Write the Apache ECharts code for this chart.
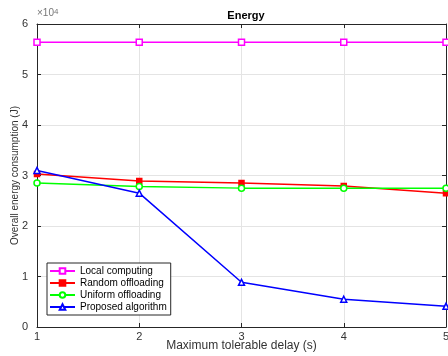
<!DOCTYPE html>
<html><head><meta charset="utf-8">
<script src="https://cdn.jsdelivr.net/npm/echarts@6/dist/echarts.min.js"></script>
<style>html,body{margin:0;padding:0;background:#fff}#c{width:448px;height:356px}</style>
</head><body><div id="c"></div>
<script>
const delays = [1, 2, 3, 4, 5];
const localComputing = [56400, 56400, 56400, 56400, 56400];
const randomOffloading = [30300, 28900, 28500, 27900, 26500];
const uniformOffloading = [28500, 27800, 27500, 27500, 27500];
const proposedAlgorithm = [31000, 26500, 8850, 5500, 4100];
const yTicks = [0, 1, 2, 3, 4, 5, 6];

const chart = echarts.init(document.getElementById('c'));
const pair = (arr) => delays.map((d, i) => [d, arr[i]]);
const txt = '#333333';
const axisCommon = {
  axisLine: {show: true, onZero: false, lineStyle: {color: '#262626', width: 1}},
  axisTick: {show: true, inside: true, length: 4, lineStyle: {color: '#262626'}},
};
const mk = (name, data, color, symbol, filled) => ({
  name, type: 'line', data: pair(data), symbol, symbolSize: filled ? 5 : 6,
  lineStyle: {color, width: 1.5},
  itemStyle: {color: filled ? color : '#fff', borderColor: color, borderWidth: 1.5},
  z: 3
});
chart.setOption({
  animation: false,
  backgroundColor: '#fff',
  title: {text: 'Energy', left: 241, textAlign: 'center', top: 5,
    textStyle: {fontSize: 11, fontWeight: 'bold', color: '#000', fontFamily: 'Liberation Sans'}},
  grid: {left: 37, right: 2, top: 24, bottom: 29, containLabel: false, outerBoundsMode: 'none'},
  legend: {
    orient: 'vertical', left: 47, top: 263, itemWidth: 25, itemHeight: 7, itemGap: 0,
    padding: [2, 4, 2, 2], borderColor: '#262626', borderWidth: 1, backgroundColor: '#fff',
    textStyle: {fontSize: 10, lineHeight: 12, color: '#000', fontFamily: 'Liberation Sans'},
    data: ['Local computing', 'Random offloading', 'Uniform offloading', 'Proposed algorithm']
  },
  xAxis: [
    Object.assign({type: 'value', min: 1, max: 5, interval: 1, position: 'bottom',
      name: 'Maximum tolerable delay (s)', nameLocation: 'middle', nameGap: 13, nameMoveOverlap: false,
      nameTextStyle: {fontSize: 12, color: txt, fontFamily: 'Liberation Sans'},
      axisLabel: {fontSize: 11, color: txt, margin: 4, fontFamily: 'Liberation Sans'},
      splitLine: {show: true, lineStyle: {color: '#e4e4e4'}}}, axisCommon),
    Object.assign({type: 'value', min: 1, max: 5, interval: 1, position: 'top',
      axisLabel: {show: false}, splitLine: {show: false}}, axisCommon)
  ],
  yAxis: [
    Object.assign({type: 'value', min: 0, max: 60000, interval: 10000, position: 'left',
      name: 'Overall energy consumption (J)', nameLocation: 'middle', nameGap: 17, nameMoveOverlap: false,
      nameTextStyle: {fontSize: 10, color: txt, fontFamily: 'Liberation Sans'},
      axisLabel: {fontSize: 11, color: txt, margin: 9, fontFamily: 'Liberation Sans',
        formatter: (v) => String(yTicks[Math.round(v / 10000)])},
      splitLine: {show: true, lineStyle: {color: '#e4e4e4'}}}, axisCommon),
    Object.assign({type: 'value', min: 0, max: 60000, interval: 10000, position: 'right',
      axisLabel: {show: false}, splitLine: {show: false}}, axisCommon)
  ],
  graphic: [{
    type: 'text', left: 37, top: 8,
    style: {text: '×10{s|4}', rich: {s: {fontSize: 8, verticalAlign: 'top', lineHeight: 8, fill: '#777', fontFamily: 'Liberation Sans'}},
      fontSize: 10, fill: '#777', fontFamily: 'Liberation Sans'}
  }],
  series: [
    mk('Local computing', localComputing, '#ff00ff', 'rect', false),
    mk('Random offloading', randomOffloading, '#ff0000', 'rect', true),
    mk('Uniform offloading', uniformOffloading, '#00ff00', 'circle', false),
    mk('Proposed algorithm', proposedAlgorithm, '#0000ff', 'triangle', false)
  ]
});
</script></body></html>
